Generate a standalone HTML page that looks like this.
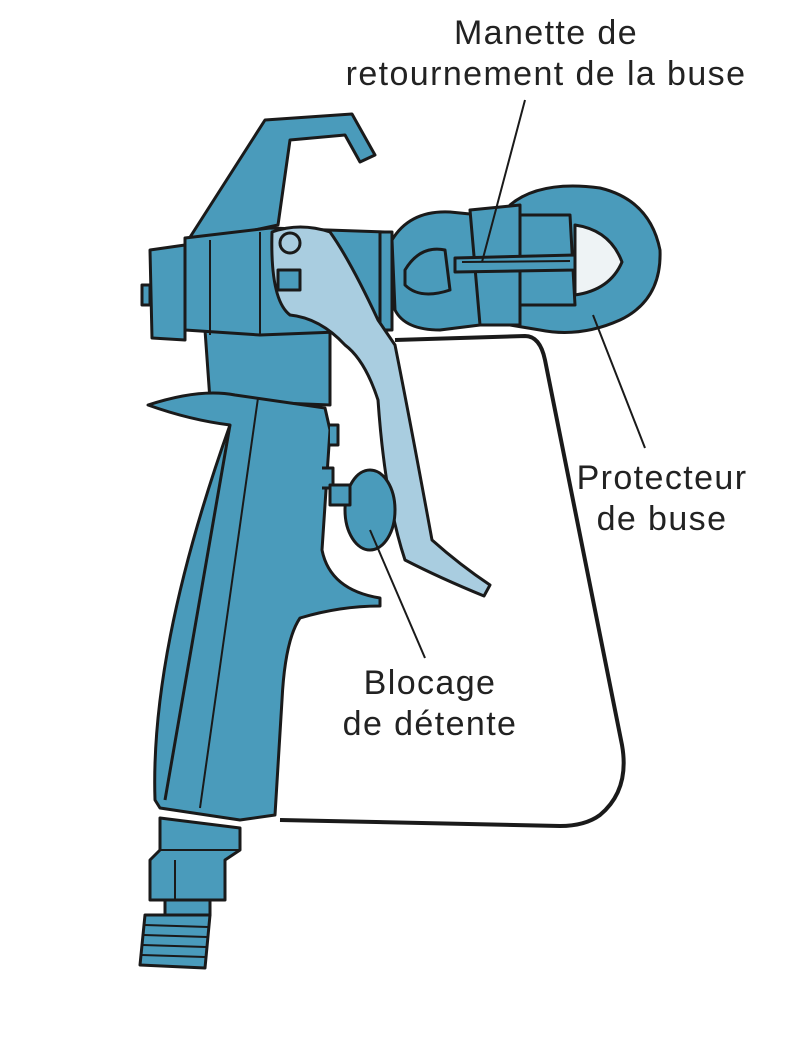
<!DOCTYPE html>
<html><head><meta charset="utf-8"><style>
html,body{margin:0;padding:0;background:#fff;}
svg{display:block;}
text{font-family:"Liberation Sans",sans-serif;font-size:34px;fill:#222;letter-spacing:1.4px;}
</style></head><body>
<svg width="800" height="1040" viewBox="0 0 800 1040" xmlns="http://www.w3.org/2000/svg">
<g stroke="#1a1a1a" stroke-width="3" stroke-linejoin="round" fill="#4a9bbb">
<path d="M395 340 L525 336 Q540 336 545 360 L622 745 Q630 790 600 815 Q585 826 560 826 L280 820" fill="none" stroke-width="4"/>
<path d="M185 245 L265 120 L352 114 L375 155 L360 162 L345 135 L290 140 L278 225 Z"/>
<path d="M205 330 L330 330 L330 405 L210 400 Z"/>
<path d="M148 405 Q200 388 235 395 L325 408 L330 430 L322 550 Q330 590 380 598 L380 606 Q340 606 300 618 Q285 640 282 700 L275 815 L240 820 L160 808 L155 800 Q150 650 230 425 Q190 420 148 405 Z"/>
<path d="M230 425 L165 800" fill="none"/>
<path d="M258 398 L200 808" fill="none" stroke-width="2"/>
<path d="M330 425 L338 425 L338 445 L330 445" />
<path d="M322 468 L333 468 L333 488 L322 488"/>
<path d="M185 238 L270 228 L385 232 L390 330 L260 335 L185 330 Z"/>
<path d="M150 250 L185 245 L185 340 L152 338 Z"/>
<path d="M142 285 L150 285 L150 305 L142 305 Z"/>
<path d="M210 240 L210 335 M260 232 L260 335" fill="none" stroke-width="2"/>
<path d="M380 232 L392 232 L392 330 L380 330 Z"/>
<path d="M392 240 Q410 210 450 212 L480 215 L480 325 L440 330 Q405 330 395 310 Z"/>
<path d="M405 270 Q420 245 445 250 L450 290 Q420 300 405 285 Z" />
<path d="M510 205 Q540 180 600 188 Q650 200 660 250 Q662 300 620 320 Q580 338 540 330 L510 325 Z"/>
<path d="M470 210 L520 205 L520 325 L480 325 Z"/>
<path d="M520 215 L570 215 L575 305 L520 305 Z"/>
<path d="M575 225 Q610 230 622 262 Q610 290 575 295 Z" fill="#eef3f5"/>
<path d="M455 258 L575 255 L575 270 L455 272 Z" fill="#4a9bbb"/>
<path d="M462 262 L570 261" fill="none" stroke-width="2"/>
<path d="M272 232 Q300 222 330 232 Q350 260 378 320 L395 345 Q410 420 432 540 Q460 565 490 585 L484 596 Q440 578 405 560 Q385 500 378 400 Q365 360 345 345 Q320 318 290 315 Q270 300 272 232 Z" fill="#a9cde0"/>
<circle cx="290" cy="243" r="10" fill="#a9cde0"/>
<path d="M278 270 L300 270 L300 290 L278 290 Z" fill="#4a9bbb"/>
<ellipse cx="370" cy="510" rx="25" ry="40" fill="#4a9bbb"/>
<path d="M330 485 L350 485 L350 505 L330 505 Z"/>
<path d="M160 818 L240 828 L240 850 L225 860 L225 900 L150 900 L150 860 L160 850 Z"/>
<path d="M160 850 L240 850 M175 860 L175 900" fill="none" stroke-width="2"/>
<path d="M165 900 L210 900 L210 915 L165 915 Z"/>
<path d="M145 915 L210 915 L205 968 L140 965 Z"/>
<path d="M145 925 L208 927 M144 935 L207 937 M143 945 L206 947 M142 955 L205 957" fill="none" stroke-width="2"/>
</g>
<g stroke="#1a1a1a" stroke-width="2" fill="none">
<line x1="525" y1="100" x2="482" y2="262"/>
<line x1="593" y1="315" x2="645" y2="448"/>
<line x1="370" y1="530" x2="425" y2="658"/>
</g>
<text x="546" y="44" text-anchor="middle">Manette de</text>
<text x="546" y="85" text-anchor="middle">retournement de la buse</text>
<text x="662" y="489" text-anchor="middle">Protecteur</text>
<text x="662" y="530" text-anchor="middle">de buse</text>
<text x="430" y="694" text-anchor="middle">Blocage</text>
<text x="430" y="735" text-anchor="middle">de détente</text>
</svg>
</body></html>
